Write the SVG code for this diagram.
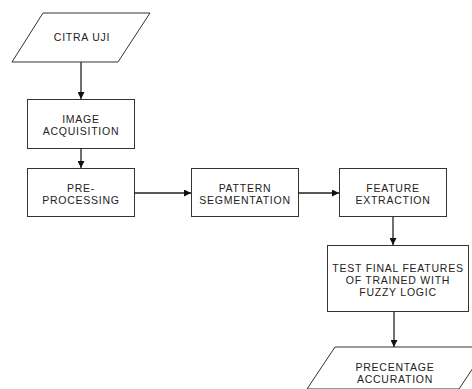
<svg xmlns="http://www.w3.org/2000/svg" width="472" height="389" viewBox="0 0 472 389">
<defs>
<marker id="ah" markerWidth="7" markerHeight="7" refX="7" refY="3.5" orient="auto" markerUnits="userSpaceOnUse">
<path d="M0,0 L7,3.5 L0,7 Z" fill="#111"/>
</marker>
<style>
.n{fill:#fff;stroke:#333;stroke-width:1}
.t{font-family:"Liberation Sans",Arial,sans-serif;font-size:10.5px;letter-spacing:0.75px;fill:#222;text-anchor:middle}
.c{stroke:#222;stroke-width:1.3;fill:none}
</style>
</defs>
<rect width="472" height="389" fill="#fff"/>
<g id="citra">
<polygon class="n" points="43,13 150,13 118,62 12,62"/>
<text class="t" x="82" y="41">CITRA UJI</text>
</g>
<g id="acq">
<rect class="n" x="27.5" y="99.5" width="107" height="49"/>
<text class="t" x="81" y="122.5">IMAGE</text>
<text class="t" x="81" y="134.5">ACQUISITION</text>
</g>
<g id="pre">
<rect class="n" x="27.5" y="168.5" width="107" height="48"/>
<text class="t" x="81" y="191.5">PRE-</text>
<text class="t" x="81" y="203.5">PROCESSING</text>
</g>
<g id="pattern">
<rect class="n" x="191.5" y="168.5" width="107" height="48"/>
<text class="t" x="245" y="191.5">PATTERN</text>
<text class="t" x="245" y="203.5">SEGMENTATION</text>
</g>
<g id="feature">
<rect class="n" x="339.5" y="168.5" width="107" height="48"/>
<text class="t" x="393" y="191.5">FEATURE</text>
<text class="t" x="393" y="203.5">EXTRACTION</text>
</g>
<g id="test">
<rect class="n" x="327.5" y="245.5" width="141" height="66"/>
<text class="t" x="398" y="271.5">TEST FINAL FEATURES</text>
<text class="t" x="398" y="283.5">OF TRAINED WITH</text>
<text class="t" x="398" y="295.5">FUZZY LOGIC</text>
</g>
<g id="result">
<polygon class="n" points="335,347 487,347 459,389 307,389"/>
<text class="t" x="395" y="370.5">PRECENTAGE</text>
<text class="t" x="395" y="382.5">ACCURATION</text>
</g>
<g id="connectors">
<line class="c" x1="81" y1="62" x2="81" y2="99" marker-end="url(#ah)"/>
<line class="c" x1="81" y1="148" x2="81" y2="168" marker-end="url(#ah)"/>
<line class="c" x1="134" y1="193" x2="191" y2="193" marker-end="url(#ah)"/>
<line class="c" x1="298" y1="193" x2="339" y2="193" marker-end="url(#ah)"/>
<line class="c" x1="393" y1="217" x2="393" y2="245" marker-end="url(#ah)"/>
<line class="c" x1="394" y1="312" x2="394" y2="347" marker-end="url(#ah)"/>
</g>
</svg>
